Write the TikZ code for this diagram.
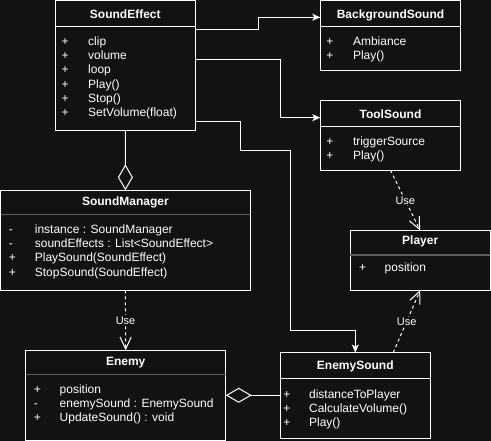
\documentclass[tikz,border=0pt]{standalone}
\usepackage{fontspec}
\setmainfont{Liberation Sans}
\usetikzlibrary{arrows.meta}
\definecolor{bgc}{RGB}{18,18,18}
\definecolor{hdr}{RGB}{92,92,92}
\newcommand\fsz{\fontsize{12}{14}\selectfont}
\begin{document}
\begin{tikzpicture}[x=1pt,y=-1pt,
  box/.style={draw=white, line width=1pt, fill=bgc, inner sep=0pt, outer sep=0pt, anchor=north west},
  ttl/.style={anchor=base, inner sep=0pt, text=white, font=\fsz\bfseries},
  sgn/.style={anchor=base west, inner sep=0pt, text=white, font=\fsz},
  rowtxt/.style={anchor=base west, inner sep=0pt, text=white, font=\fsz},
  hline/.style={draw=white, line width=1pt},
  gline/.style={draw=hdr, line width=1.6pt},
  arr/.style={draw=white, line width=1pt, -{Stealth[length=8pt,width=7pt,inset=2pt]}},
  dep/.style={draw=white, line width=1pt, dash pattern=on 3pt off 3pt, -{Straight Barb[length=12pt,width=11pt]}},
  agg/.style={draw=white, line width=1pt, {Diamond[open,length=26pt,width=15pt]}-},
  lbl/.style={fill=bgc, inner sep=1pt, text=white, font=\fontsize{11}{13}\selectfont}]
\fill[bgc] (0,0) rectangle (491,441);
\useasboundingbox (0,0) rectangle (491,441);

% ---------- SoundEffect
\node[box, minimum width=140pt, minimum height=129.8pt] (se) at (55.3,0.5) {};
\draw[hline] (se.west |- 0,26.3) -- (se.east |- 0,26.3);
\node[ttl] (se-t) at (125.3,18.3) {SoundEffect};
\foreach \s/\t [count=\i from 0] in {+/clip,+/volume,+/loop,+/Play(),+/Stop(),+/SetVolume(float)} {
  \node[sgn] (se-s\i) at (61.5,{45.3+14.3*\i}) {\s};
  \node[rowtxt] (se-r\i) at (88,{45.3+14.3*\i}) {\t};
}

% ---------- BackgroundSound
\node[box, minimum width=140.4pt, minimum height=69.8pt] (bg) at (320.3,0.5) {};
\draw[hline] (bg.west |- 0,26.3) -- (bg.east |- 0,26.3);
\node[ttl] (bg-t) at (390.5,18.3) {BackgroundSound};
\foreach \s/\t [count=\i from 0] in {+/Ambiance,+/Play()} {
  \node[sgn] (bg-s\i) at (326.2,{45.3+14.3*\i}) {\s};
  \node[rowtxt] (bg-r\i) at (352.8,{45.3+14.3*\i}) {\t};
}

% ---------- ToolSound
\node[box, minimum width=140.4pt, minimum height=70pt] (ts) at (320.3,100.3) {};
\draw[hline] (ts.west |- 0,126.7) -- (ts.east |- 0,126.7);
\node[ttl] (ts-t) at (390.5,118.3) {ToolSound};
\foreach \s/\t [count=\i from 0] in {+/triggerSource,+/Play()} {
  \node[sgn] (ts-s\i) at (326.2,{145.3+14.3*\i}) {\s};
  \node[rowtxt] (ts-r\i) at (352.8,{145.3+14.3*\i}) {\t};
}

% ---------- SoundManager
\node[box, minimum width=249.8pt, minimum height=100pt] (sm) at (0.5,190.3) {};
\draw[gline] (sm.west |- 0,214.7) -- (sm.east |- 0,214.7);
\node[ttl] (sm-t) at (125.4,206) {SoundManager};
\foreach \s/\t [count=\i from 0] in {-/instance : SoundManager,-/soundEffects : List<SoundEffect>,+/PlaySound(SoundEffect),+/StopSound(SoundEffect)} {
  \node[sgn] (sm-s\i) at (8.8,{233.3+14.3*\i}) {\s};
  \node[rowtxt] (sm-r\i) at (34.7,{233.3+14.3*\i}) {\t};
}

% ---------- Player
\node[box, minimum width=139.7pt, minimum height=60pt] (pl) at (350.3,230.3) {};
\draw[gline] (pl.west |- 0,255) -- (pl.east |- 0,255);
\node[ttl] (pl-t) at (420.2,245) {Player};
\node[sgn] (pl-s0) at (358.8,271.7) {+};
\node[rowtxt] (pl-r0) at (384.5,271.7) {position};

% ---------- Enemy
\node[box, minimum width=200pt, minimum height=89.9pt] (en) at (25.7,350.3) {};
\draw[gline] (en.west |- 0,374.7) -- (en.east |- 0,374.7);
\node[ttl] (en-t) at (125.7,366) {Enemy};
\foreach \s/\t [count=\i from 0] in {+/position,-/enemySound : EnemySound,+/UpdateSound() : void} {
  \node[sgn] (en-s\i) at (33.8,{393.3+14.3*\i}) {\s};
  \node[rowtxt] (en-r\i) at (59.5,{393.3+14.3*\i}) {\t};
}

% ---------- EnemySound
\node[box, minimum width=150pt, minimum height=85.8pt] (es) at (280.3,352.5) {};
\draw[hline] (es.west |- 0,378.3) -- (es.east |- 0,378.3);
\node[ttl] (es-t) at (355.3,369.3) {EnemySound};
\foreach \s/\t [count=\i from 0] in {+/distanceToPlayer,+/CalculateVolume(),+/Play()} {
  \node[sgn] (es-s\i) at (283.2,{398.3+14.3*\i}) {\s};
  \node[rowtxt] (es-r\i) at (308.9,{398.3+14.3*\i}) {\t};
}

% ---------- connectors
\draw[arr] (se.east |- 0,29.3) -- (258,29.3) -- (258,17.3) -- (bg.west |- 0,17.3);
\draw[arr] (se.east |- 0,59.3) -- (280.3,59.3) -- (280.3,117.7) -- (ts.west |- 0,117.7);
\draw[arr] (se.east |- 0,121.3) -- (240.3,121.3) -- (240.3,150.3) -- (290.3,150.3) -- (290.3,330.3) -- (es.north |- 0,330.3) -- (es.north);

\draw[agg] (sm.north) -- (se.south);
\draw[agg] (en.east |- 0,395.3) -- (es.west |- 0,395.3);

\draw[dep] (sm.south) -- node[lbl] (u1) {Use} (en.north);
\draw[dep] (ts.south) -- node[lbl] (u2) {Use} (pl.north);
\draw[dep] ([xshift=38pt]es.north) -- node[lbl] (u3) {Use} (pl.south);
\end{tikzpicture}
\end{document}
